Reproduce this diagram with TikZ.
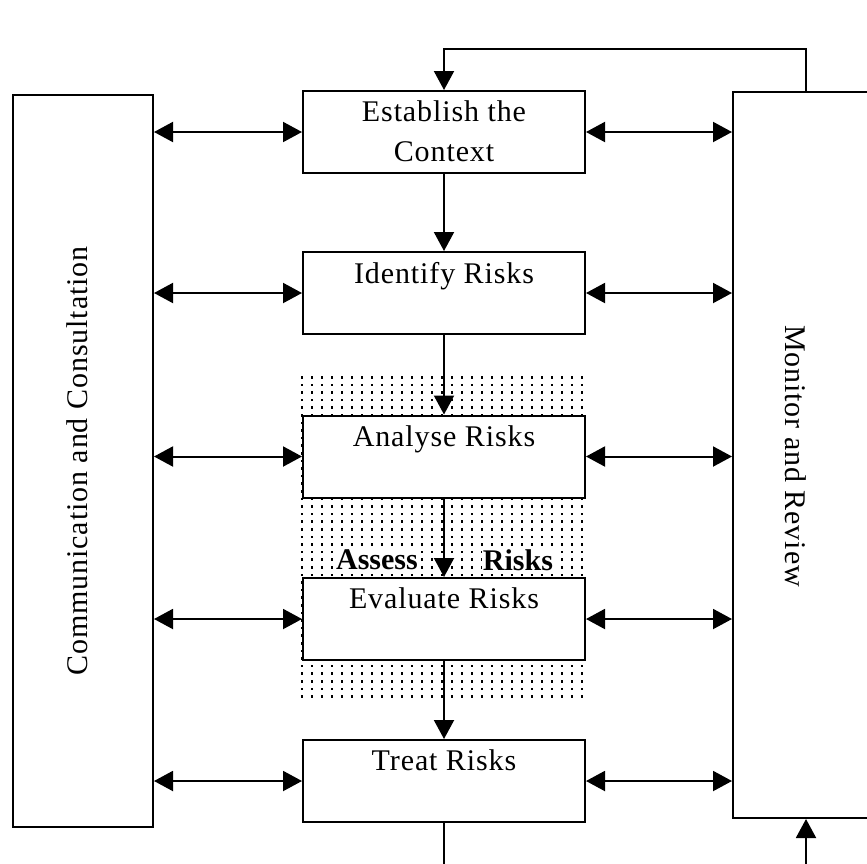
\documentclass[tikz,border=0pt]{standalone}
\usepackage{fontspec}
\setmainfont{Liberation Serif}
\usetikzlibrary{arrows.meta}
\begin{document}
\begin{tikzpicture}[x=0.5pt,y=-0.5pt,
  line width=1pt,
  boxst/.style={draw, fill=white, minimum width=141pt, minimum height=41pt, inner sep=0pt},
  txt/.style={font=\fontsize{15pt}{20pt}\selectfont\addfontfeature{LetterSpace=3}, inner sep=0pt, align=center},
  boldtxt/.style={font=\fontsize{15pt}{20pt}\selectfont\bfseries, inner sep=0.5pt, fill=white},
  sidetxt/.style={font=\fontsize{15pt}{20pt}\selectfont\addfontfeature{LetterSpace=3}, inner sep=0pt},
  arr/.style={-{Triangle[length=9.5pt,width=10pt]}},
  darr/.style={{Triangle[length=9.5pt,width=10pt]}-{Triangle[length=9.5pt,width=10pt]}}]
\useasboundingbox (0,0) rectangle (867,863);
\fill[white] (0,0) rectangle (867,863);
\clip (0,0) rectangle (867,863);
% dotted "Assess Risks" area
\foreach \i in {0,...,28}{\foreach \j in {0,...,42}{\fill[black] (301+\i*10,376+\j*7.6) rectangle ++(1.7,2.6);}}
% process boxes
\node[boxst] (est) at (444,132) {};
\node[boxst] (idr) at (444,293) {};
\node[boxst] (ana) at (444,456.5) {};
\node[boxst] (eva) at (444,619) {};
\node[boxst] (tre) at (444,781) {};
% side boxes
\node[draw, fill=white, minimum width=70pt, minimum height=366pt, inner sep=0pt] (cc) at (83,461) {};
\node[draw, fill=white, minimum width=83.5pt, minimum height=363pt, inner sep=0pt] (mr) at (816.5,455) {};
% texts
\node[txt, anchor=north] (estt) at ([yshift=-5pt]est.north) {Establish the\\Context};
\node[txt, anchor=north] (idrt) at ([yshift=-5pt]idr.north) {Identify Risks};
\node[txt, anchor=north] (anat) at ([yshift=-5pt]ana.north) {Analyse Risks};
\node[txt, anchor=north] (evat) at ([yshift=-5pt]eva.north) {Evaluate Risks};
\node[txt, anchor=north] (tret) at ([yshift=-5pt]tre.north) {Treat Risks};
\node[sidetxt, rotate=90] (cct) at (77,461) {Communication and Consultation};
\node[sidetxt, rotate=-90] (mrt) at (796,456) {Monitor and Review};
\node[boldtxt] (as1) at (377,560) {Assess};
\node[boldtxt] (as2) at (518,560) {Risks};
% two-way links
\foreach \b in {est,idr,ana,eva,tre}{
  \draw[darr] (cc.east |- \b) -- (\b.west);
  \draw[darr] (\b.east) -- (mr.west |- \b);
}
% main flow
\draw[arr] (est.south) -- (idr.north);
\draw[arr] (idr.south) -- (ana.north);
\draw[arr] (ana.south) -- (eva.north);
\draw[arr] (eva.south) -- (tre.north);
% feedback loop
\coordinate (fbk) at (806,49);
\draw[arr] (mr.north -| fbk) -- (fbk) -- (fbk -| est.north) -- (est.north);
\coordinate (b1) at (443,875);
\draw (tre.south) -- (tre.south |- b1);
\coordinate (b2) at (806,875);
\draw[arr] (b2) -- (mr.south -| b2);
\end{tikzpicture}
\end{document}
